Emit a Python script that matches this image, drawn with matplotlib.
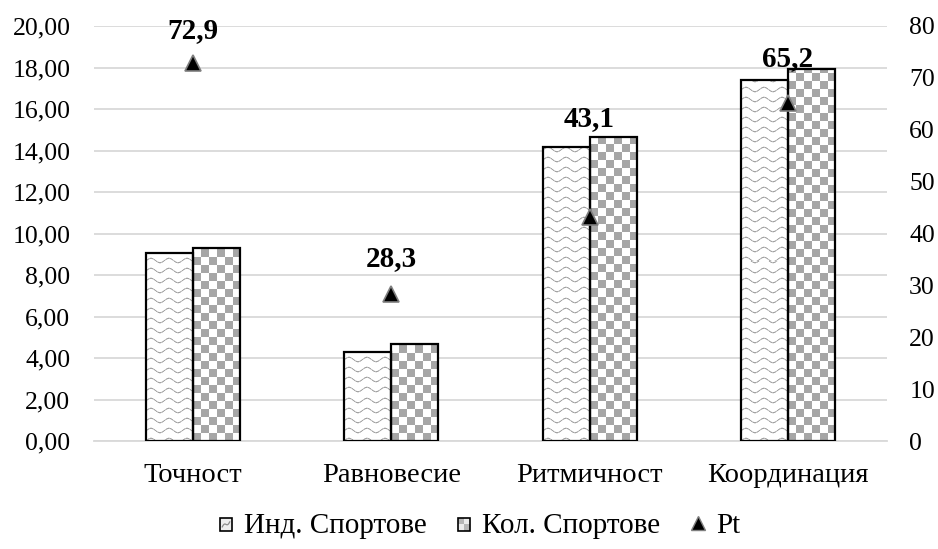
import numpy as np
import matplotlib
matplotlib.use('Agg')
import matplotlib.pyplot as plt
from matplotlib.legend_handler import HandlerBase
from matplotlib.patches import Rectangle
from matplotlib.lines import Line2D

categories = ['Точност', 'Равновесие', 'Ритмичност', 'Координация']
ind = [9.05, 4.29, 14.18, 17.40]
kol = [9.29, 4.67, 14.67, 17.91]
pt = [72.9, 28.3, 43.1, 65.2]
pt_labels = ['72,9', '28,3', '43,1', '65,2']
series_names = ['Инд. Спортове', 'Кол. Спортове', 'Pt']
left_ticks = np.arange(0, 20.01, 2)
right_ticks = np.arange(0, 81, 10)

plt.rcParams['font.family'] = ['Liberation Serif', 'DejaVu Serif']

W, H = 938, 549
fig = plt.figure(figsize=(W / 100, H / 100), dpi=100)
ax = fig.add_axes([94 / W, (H - 441) / H, (887 - 94) / W, (441 - 26) / H])
ax.set_xlim(-0.5, 3.5)
ax.set_ylim(0, 20)
ax.set_yticks(left_ticks)
ax.set_yticklabels([f'{v:.2f}'.replace('.', ',') for v in left_ticks])
ax.yaxis.grid(True, color='#d9d9d9', lw=1.3)
ax.set_axisbelow(True)
for s in ['top', 'right', 'left']:
    ax.spines[s].set_visible(False)
ax.spines['bottom'].set_color('#d9d9d9')
ax.spines['bottom'].set_linewidth(1.3)
ax.tick_params(axis='both', length=0)
ax.tick_params(axis='y', pad=17, labelsize=18.5)
ax.tick_params(axis='x', pad=16, labelsize=20.5)
x = np.arange(len(categories))
ax.set_xticks(x)
ax.set_xticklabels(categories)

w = 0.237
b1 = ax.bar(x - w / 2, ind, w, facecolor='none', edgecolor='black', lw=1.6, zorder=3)
b2 = ax.bar(x + w / 2, kol, w, facecolor='none', edgecolor='black', lw=1.6, zorder=3)


def pattern(kind, wpx, hpx):
    rows = np.arange(hpx)[:, None]
    cols = np.arange(wpx)[None, :]
    yb = (hpx - 1 - rows).astype(float)
    img = np.ones((hpx, wpx, 3))
    if kind == 'kol':
        sq = 8
        mask = ((cols // sq) + (yb.astype(int) // sq)) % 2 == 0
        g = 0xa6 / 255
        img[mask] = g
    else:
        P, S, A = 18.0, 10.0, 2.2
        yy = yb - A * np.sin(2 * np.pi * cols / P)
        d = np.abs(((yy + S / 2) % S) - S / 2)
        inten = np.clip(1.2 - d / 0.9, 0, 1)
        dash = 0.7 + 0.3 * (np.sin(2 * np.pi * cols / 4.0) > -0.2)
        v = 1 - 0.36 * inten * dash
        img[:] = v[..., None]
    return img


for bars, kind in [(b1, 'ind'), (b2, 'kol')]:
    for bar in bars:
        x0, x1 = bar.get_x(), bar.get_x() + bar.get_width()
        h = bar.get_height()
        p0 = ax.transData.transform((x0, 0))
        p1 = ax.transData.transform((x1, h))
        wpx = max(int(round(p1[0] - p0[0])), 1)
        hpx = max(int(round(p1[1] - p0[1])), 1)
        im = ax.imshow(pattern(kind, wpx, hpx), extent=(x0, x1, 0, h), aspect='auto',
                       interpolation='nearest', zorder=2.5)
        im.set_clip_path(bar)
ax.set_xlim(-0.5, 3.5)
ax.set_ylim(0, 20)

ax2 = ax.twinx()
ax2.set_ylim(0, 80)
ax2.set_yticks(right_ticks)
ax2.set_yticklabels([str(v) for v in right_ticks])
for s in ax2.spines.values():
    s.set_visible(False)
ax2.tick_params(axis='y', length=0, labelsize=18.5, pad=16)
ax2.plot(x, pt, ls='none', marker='^', ms=12, mfc='black', mec='#7f7f7f', mew=1.2, zorder=5)
label_offsets = [23, 26, 71, 32]
for xi, v, lab, off in zip(x, pt, pt_labels, label_offsets):
    ax2.annotate(lab, (xi, v), xytext=(0, off), textcoords='offset points',
                 ha='center', va='center', fontsize=21, fontweight='bold')


class SwatchHandler(HandlerBase):
    def __init__(self, kind):
        super().__init__()
        self.kind = kind

    def create_artists(self, legend, orig_handle, xdescent, ydescent, width, height, fontsize, trans):
        s = 9.0
        x0 = -xdescent + (width - s) / 2
        y0 = -ydescent + (height - s) / 2 - 1
        arts = []
        if self.kind == 'kol':
            arts.append(Rectangle((x0, y0), s, s, facecolor='white', edgecolor='none', transform=trans))
            arts.append(Rectangle((x0, y0 + s / 2), s / 2, s / 2, facecolor='#a6a6a6', edgecolor='none', transform=trans))
            arts.append(Rectangle((x0 + s / 2, y0), s / 2, s / 2, facecolor='#a6a6a6', edgecolor='none', transform=trans))
            arts.append(Rectangle((x0, y0), s, s, facecolor='#d0d0d0', edgecolor='none', alpha=0.4, transform=trans))
        else:
            arts.append(Rectangle((x0, y0), s, s, facecolor='#ececec', edgecolor='none', transform=trans))
            tt = np.linspace(0, 1, 30)
            ln = Line2D(x0 + s * (0.2 + 0.6 * tt), y0 + s * (0.3 + 0.4 * tt) + 1.0 * np.sin(tt * 2 * np.pi),
                        color='#8a8a8a', lw=0.9, transform=trans)
            arts.append(ln)
        arts.append(Rectangle((x0, y0), s, s, facecolor='none', edgecolor='black', lw=1.2, transform=trans))
        return arts


h_ind = Rectangle((0, 0), 1, 1)
h_kol = Rectangle((0, 0), 1, 1, label='k')
h_pt = Line2D([], [], ls='none', marker='^', ms=10, mfc='black', mec='#7f7f7f', mew=1.0)
fig.legend([h_ind, h_kol, h_pt], series_names, loc='center', bbox_to_anchor=(479 / W, 1 - 526 / H),
           ncol=3, frameon=False, fontsize=21, handlelength=0.55, handletextpad=0.35, columnspacing=1.0,
           handler_map={h_ind: SwatchHandler('ind'), h_kol: SwatchHandler('kol')})

fig.savefig('out.png', dpi=100)
